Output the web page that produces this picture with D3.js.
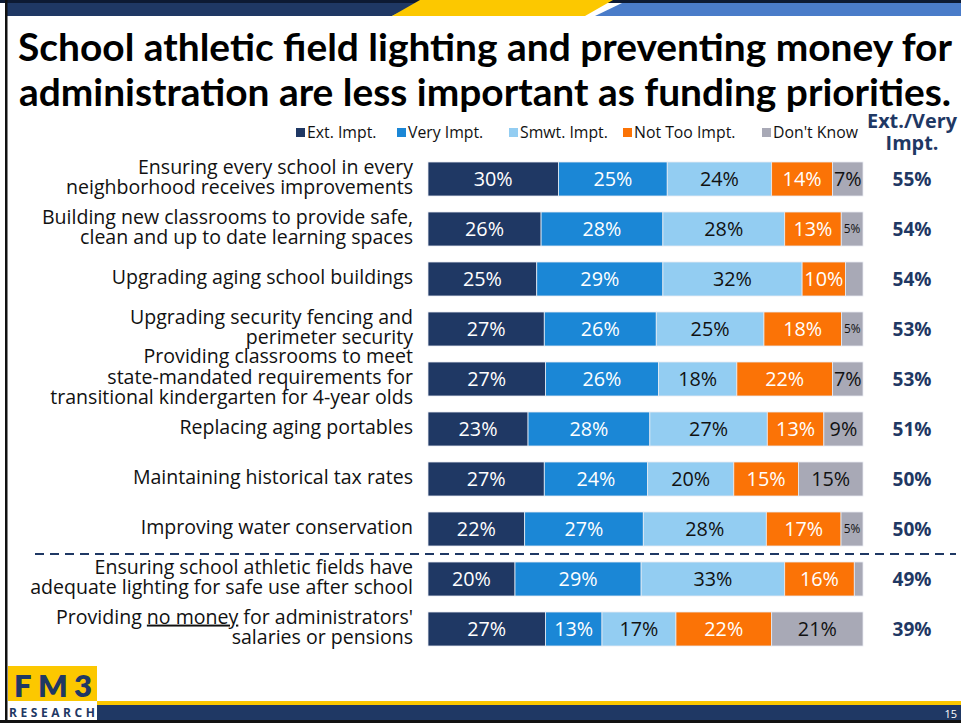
<!DOCTYPE html>
<html>
<head>
<meta charset="utf-8">
<script src="https://cdn.jsdelivr.net/npm/d3@7"></script>
<style>
  body { margin: 0; background: #fff; }
  svg { display: block; font-family: "Open Sans", Lato, sans-serif; }
</style>
</head>
<body>
<div id="chart"></div>
<script>
var width = 961, height = 723;

// data
var categories = [
  ["Ensuring every school in every", "neighborhood receives improvements"],
  ["Building new classrooms to provide safe,", "clean and up to date learning spaces"],
  ["Upgrading aging school buildings"],
  ["Upgrading security fencing and", "perimeter security"],
  ["Providing classrooms to meet", "state-mandated requirements for", "transitional kindergarten for 4-year olds"],
  ["Replacing aging portables"],
  ["Maintaining historical tax rates"],
  ["Improving water conservation"],
  ["Ensuring school athletic fields have", "adequate lighting for safe use after school"],
  ["Providing |no money| for administrators'", "salaries or pensions"]
];
var seriesNames = ["Ext. Impt.", "Very Impt.", "Smwt. Impt.", "Not Too Impt.", "Don't Know"];
var extImpt    = [30, 26, 25, 27, 27, 23, 27, 22, 20, 27];
var veryImpt   = [25, 28, 29, 26, 26, 28, 24, 27, 29, 13];
var smwtImpt   = [24, 28, 32, 25, 18, 27, 20, 28, 33, 17];
var notTooImpt = [14, 13, 10, 18, 22, 13, 15, 17, 16, 22];
var dontKnow   = [7, 5, 4, 5, 7, 9, 15, 5, 2, 21];
var extVery    = [55, 54, 54, 53, 53, 51, 50, 50, 49, 39];

var colors = ["#1f3864", "#1b87d6", "#93cdf2", "#fb7306", "#a8a9b6"];
var textColors = ["#fff", "#fff", "#111", "#fff", "#111"];
var navy = "#1f3864";

var rows = categories.map(function(c, i) {
  return { i: i, label: c, "Ext. Impt.": extImpt[i], "Very Impt.": veryImpt[i],
    "Smwt. Impt.": smwtImpt[i], "Not Too Impt.": notTooImpt[i], "Don't Know": dontKnow[i] };
});

var svg = d3.select("#chart").append("svg")
    .attr("width", width)
    .attr("height", height);

// works out a font-size so that a string comes out at the given width
function sizeFor(str, target, weight, family) {
  var t = svg.append("text").style("font-size", "20px")
      .style("font-weight", weight || 400)
      .style("font-family", family || null).text(str);
  var w = t.node().getComputedTextLength();
  t.remove();
  return 20 * target / w;
}

// frame / banner
svg.append("rect").attr("x", 0).attr("y", 0).attr("width", width).attr("height", 3).attr("fill", "#0d1a33");
svg.append("path").attr("d", "M5,3 L420,3 L392,16 L5,16 Z").attr("fill", navy);
svg.append("path").attr("d", "M420,0 L613,0 L585,16 L392,16 Z").attr("fill", "#fcc800");
svg.append("path").attr("d", "M622,3 L961,3 L961,16 L595,16 Z").attr("fill", "#4a7cc9");
svg.append("rect").attr("x", 5).attr("y", 0).attr("width", 2.5).attr("height", height).attr("fill", "#111");
svg.append("rect").attr("x", 97).attr("y", 701).attr("width", width - 97).attr("height", 4).attr("fill", "#fcc800");
svg.append("rect").attr("x", 97).attr("y", 705).attr("width", width - 97).attr("height", 15).attr("fill", navy);
svg.append("rect").attr("x", 0).attr("y", 720).attr("width", width).attr("height", 3).attr("fill", "#111");
svg.append("text").attr("x", 957).attr("y", 718).attr("text-anchor", "end")
    .attr("fill", "#fff").style("font-size", "11px").text("15");

// logo
svg.append("rect").attr("x", 8).attr("y", 666).attr("width", 89).attr("height", 35).attr("fill", "#fcc800");
svg.append("text").attr("x", 14).attr("y", 697)
    .attr("fill", navy).style("font-size", "31px").style("font-weight", 800)
    .style("font-family", "Lato, sans-serif")
    .attr("textLength", 78).attr("lengthAdjust", "spacing").text("FM3");
svg.append("text").attr("x", 9).attr("y", 717)
    .attr("fill", navy).style("font-size", "12px").style("font-weight", 700)
    .attr("textLength", 86).attr("lengthAdjust", "spacing").text("RESEARCH");

// title
var tfs = sizeFor("School athletic field lighting and preventing money for", 934, 700, "Lato, sans-serif");
svg.append("text").attr("x", 485).attr("y", 61).attr("text-anchor", "middle")
    .style("font-size", tfs + "px").style("font-weight", 700).style("font-family", "Lato, sans-serif")
    .attr("fill", "#000")
    .text("School athletic field lighting and preventing money for");
svg.append("text").attr("x", 485).attr("y", 106).attr("text-anchor", "middle")
    .style("font-size", tfs + "px").style("font-weight", 700).style("font-family", "Lato, sans-serif")
    .attr("fill", "#000")
    .text("administration are less important as funding priorities.");

// scales
var x = d3.scaleLinear().domain([0, 1]).range([428, 863]);
var y = d3.scaleBand().domain(d3.range(categories.length)).range([154, 654]).paddingInner(0.32).paddingOuter(0.16);

var stack = d3.stack().keys(seriesNames).offset(d3.stackOffsetExpand);
var stacked = stack(rows);

// legend
var legendX = [296, 397, 509, 623, 762];
var lgfs = sizeFor("Don't Know", 85);
var legend = svg.append("g").selectAll("g").data(seriesNames).enter().append("g")
    .attr("transform", function(d, i) { return "translate(" + legendX[i] + ",128)"; });
legend.append("rect").attr("width", 9).attr("height", 9).attr("fill", function(d, i) { return colors[i]; });
legend.append("text").attr("x", 11).attr("y", 10).style("font-size", lgfs + "px").attr("fill", "#111")
    .text(function(d) { return d; });

// header for Ext./Very
var hfs = sizeFor("Ext./Very", 90, 700);
svg.append("text").attr("x", 912).attr("y", 128).attr("text-anchor", "middle")
    .style("font-size", hfs + "px").style("font-weight", 700).attr("fill", navy).text("Ext./Very");
svg.append("text").attr("x", 912).attr("y", 150).attr("text-anchor", "middle")
    .style("font-size", hfs + "px").style("font-weight", 700).attr("fill", navy).text("Impt.");

// bars
var layers = svg.append("g").selectAll("g").data(stacked).enter().append("g")
    .attr("fill", function(d, i) { return colors[i]; });

layers.selectAll("rect").data(function(d) { return d; }).enter().append("rect")
    .attr("x", function(d) { return x(d[0]); })
    .attr("y", function(d) { return y(d.data.i); })
    .attr("width", function(d) { return x(d[1]) - x(d[0]); })
    .attr("height", y.bandwidth())
    .attr("stroke", "#e8ecf2")
    .attr("stroke-width", 0.8);

var vfs = sizeFor("30%", 39);
layers.each(function(layer, li) {
  d3.select(this).selectAll("text").data(layer.filter(function(d) { return d.data[layer.key] >= 5; }))
    .enter().append("text")
    .attr("x", function(d) { return (x(d[0]) + x(d[1])) / 2; })
    .attr("y", function(d) { return y(d.data.i) + y.bandwidth() / 2; })
    .attr("dy", "0.36em")
    .attr("text-anchor", "middle")
    .attr("fill", textColors[li])
    .style("font-size", function(d) {
      var v = d.data[layer.key];
      return (v <= 5 && li == 4) ? (vfs * 0.6) + "px" : vfs + "px";
    })
    .text(function(d) { return d.data[layer.key] + "%"; });
});

// Ext./Very values
var efs = sizeFor("55%", 39, 700);
svg.append("g").selectAll("text").data(extVery).enter().append("text")
    .attr("x", 912)
    .attr("y", function(d, i) { return y(i) + y.bandwidth() / 2; })
    .attr("dy", "0.36em")
    .attr("text-anchor", "middle")
    .style("font-size", efs + "px").style("font-weight", 700).attr("fill", navy)
    .text(function(d) { return d + "%"; });

// category labels
var labelG = svg.append("g");
var lfs = sizeFor(categories[4][2], 363);
var lineH = 20.5;

categories.forEach(function(lines, i) {
  var cy = y(i) + y.bandwidth() / 2 - 2;
  var txt = labelG.append("text").attr("text-anchor", "end")
      .style("font-size", lfs + "px").attr("fill", "#111");
  lines.forEach(function(line, k) {
    var yy = cy + (k - (lines.length - 1) / 2) * lineH;
    var t = txt.append("tspan").attr("x", 413).attr("y", yy).attr("dy", "0.35em");
    line.split("|").forEach(function(part, p) {
      if (part === "") return;
      var s = t.append("tspan").text(part);
      if (p == 1) s.style("text-decoration", "underline");
    });
  });
});

// dashed divider
svg.append("line")
    .attr("x1", 35).attr("x2", 956)
    .attr("y1", (y(7) + y.bandwidth() + y(8)) / 2)
    .attr("y2", (y(7) + y.bandwidth() + y(8)) / 2)
    .attr("stroke", navy).attr("stroke-width", 2)
    .attr("stroke-dasharray", "9,6");
</script>
</body>
</html>
